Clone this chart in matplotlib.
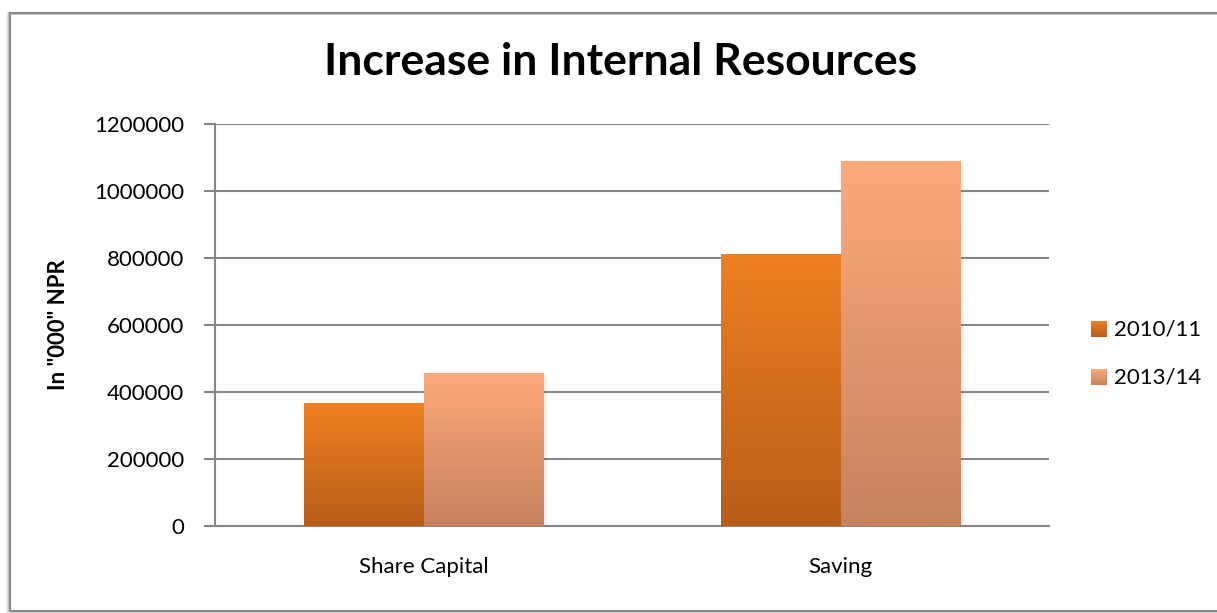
import matplotlib.pyplot as plt
import numpy as np
from matplotlib.patches import Rectangle
from matplotlib.colors import LinearSegmentedColormap

categories = ["Share Capital", "Saving"]
series_names = ["2010/11", "2013/14"]
values_2010 = [366000, 811000]
values_2013 = [456000, 1088000]
y_ticks = [0, 200000, 400000, 600000, 800000, 1000000, 1200000]

# top / bottom colours of the gradient fill for each series
grad_2010 = ("#EF8022", "#B75D18")
grad_2013 = ("#FDAA7B", "#C6825F")

plt.rcParams['font.family'] = ['Lato', 'DejaVu Sans']

fig = plt.figure(figsize=(12.17, 6.13), dpi=100)
W, H = 1217, 613

# outer chart frame with a soft shadow
for i, a in enumerate([0.05, 0.08, 0.12]):
    off = 3 - i
    fig.patches.append(Rectangle(((10 - off) / W, (613 - 611 - off) / H), 1.2, (598 + off) / H,
                                 transform=fig.transFigure, fill=False,
                                 edgecolor="black", alpha=a, linewidth=2))
fig.patches.append(Rectangle((10 / W, 2 / H), 1.2, 598 / H, transform=fig.transFigure,
                             fill=False, edgecolor="#8a8a8a", linewidth=1.5))

ax = fig.add_axes([215 / W, 1 - 526 / H, (1049 - 215) / W, (526 - 123.5) / H])

x = np.arange(len(categories))
width = 2 / 7

bars_a = ax.bar(x - width / 2, values_2010, width, color=grad_2010[0], label=series_names[0], zorder=3)
bars_b = ax.bar(x + width / 2, values_2013, width, color=grad_2013[0], label=series_names[1], zorder=3)

grad = np.linspace(1, 0, 256).reshape(-1, 1)
for bars, cols in ((bars_a, grad_2010), (bars_b, grad_2013)):
    cmap = LinearSegmentedColormap.from_list("g", [cols[1], cols[0]])
    for b in bars:
        x0, w, h = b.get_x(), b.get_width(), b.get_height()
        # faint shadow on the right of each bar
        for k, al in enumerate([0.06, 0.04, 0.02]):
            ax.add_patch(Rectangle((x0 + w, 0), 0.004 * (k + 1), h * (1 - 0.005 * k),
                                   color="black", alpha=al, zorder=2.5, linewidth=0))
        im = ax.imshow(grad, cmap=cmap, extent=[x0, x0 + w, 0, h], aspect="auto", zorder=3.5)
        im.set_clip_path(b)

ax.set_xlim(-0.5, 1.5)
ax.set_ylim(0, 1200000)
ax.set_yticks(y_ticks)
ax.set_yticklabels([str(v) for v in y_ticks], fontsize=16)
ax.set_xticks(x)
ax.set_xticklabels(categories, fontsize=16)
ax.tick_params(axis="y", length=8, width=1.5, color="#868686", pad=14)
ax.tick_params(axis="x", length=0, pad=22)
ax.yaxis.grid(True, color="#868686", linewidth=1.5, zorder=1)
ax.set_axisbelow(True)
for s in ("top", "right"):
    ax.spines[s].set_visible(False)
for s in ("left", "bottom"):
    ax.spines[s].set_color("#868686")
    ax.spines[s].set_linewidth(1.5)

ax.set_ylabel('In "000" NPR', fontsize=16, fontweight="bold", labelpad=18)

fig.text(621 / W, 1 - 62 / H, "Increase in Internal Resources", fontsize=32,
         fontweight="bold", ha="center", va="center")

# legend with gradient swatches
for i, (name, cols) in enumerate(zip(series_names, (grad_2010, grad_2013))):
    yc = [329, 377][i]
    cmap = LinearSegmentedColormap.from_list("g", [cols[1], cols[0]])
    lax = fig.add_axes([1091 / W, 1 - (yc + 8) / H, 16 / W, 16 / H])
    lax.imshow(grad, cmap=cmap, aspect="auto")
    lax.axis("off")
    fig.text(1114 / W, 1 - yc / H, name, fontsize=16, va="center", ha="left")

fig.savefig("out.png", dpi=100)
